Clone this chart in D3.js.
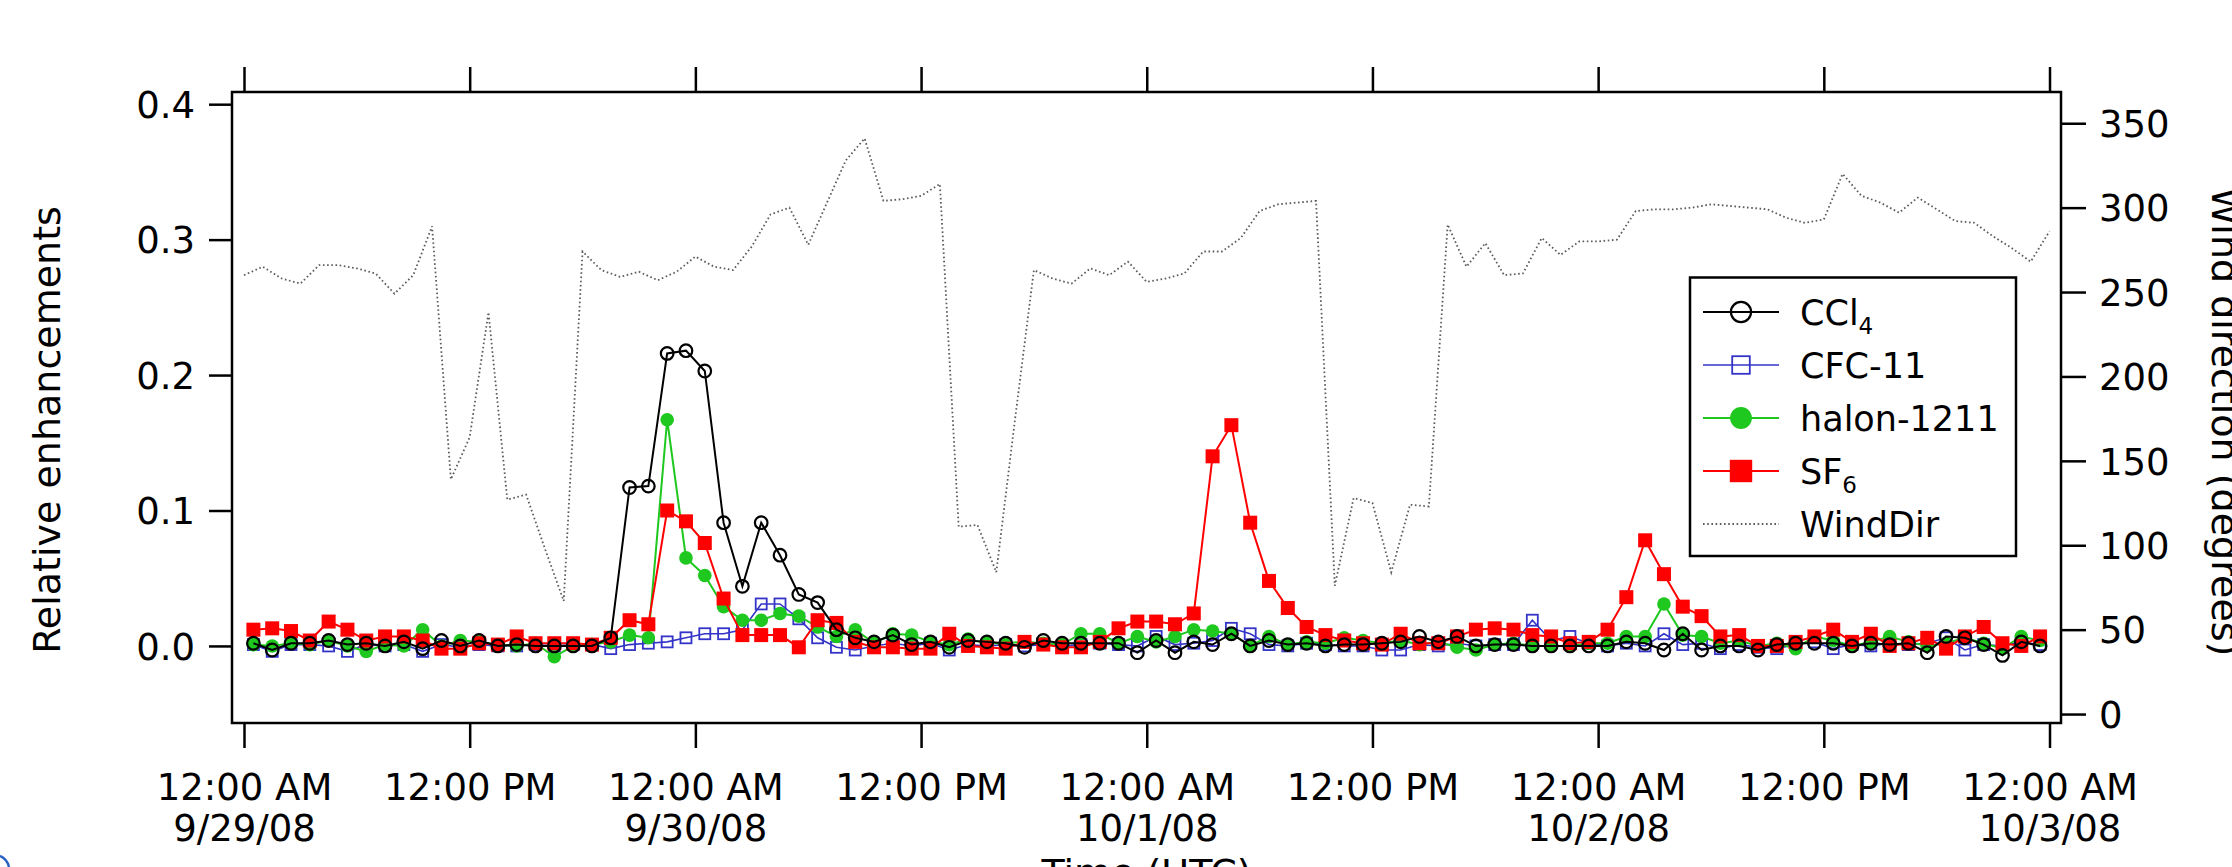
<!DOCTYPE html>
<html>
<head>
<meta charset="utf-8">
<script src="https://cdn.jsdelivr.net/npm/d3@7"></script>
<style>
  html, body { margin: 0; padding: 0; background: #fff; }
  svg { display: block; }
  text { font-family: "DejaVu Sans", sans-serif; fill: #000; }
</style>
</head>
<body>
<svg id="chart" width="2232" height="867"></svg>
<script>
// ---- data -------------------------------------------------------------
// start of record: 12:00 AM 9/29/08 (UTC); gas samples are hourly at half past,
// wind direction is hourly on the hour.
const startTime = Date.UTC(2008, 8, 29, 0, 0);
const HOUR = 3600 * 1000;

// wind direction (degrees), hours 0..96
const windDir = [
  260, 265, 258, 255, 266, 266, 264, 261, 249, 260,
  289, 139, 164, 238, 127, 130,  98,  67, 274, 263,
  259, 262, 257, 262, 271, 265, 263, 277, 296, 300,
  278, 303, 328, 341, 304, 305, 307, 314, 111, 112,
   84, 175, 263, 258, 255, 264, 260, 268, 256, 258,
  261, 274, 274, 282, 298, 302, 303, 304,  76, 128,
  125,  84, 124, 123, 290, 265, 279, 260, 261, 282,
  272, 280, 280, 281, 298, 299, 299, 300, 302, 301,
  300, 299, 294, 291, 293, 320, 307, 303, 297, 306,
  299, 292, 291, 283, 276, 268, 286
];

// relative enhancements, hours 0.5..95.5
const ccl4 = [
  0.002, -0.003, 0.002, 0.002, 0.004, 0.001, 0.002, 0.000, 0.003, -0.002,
  0.004, 0.000, 0.004, 0.000, 0.001, 0.000, 0.000, 0.000, 0.000, 0.006,
  0.117, 0.118, 0.216, 0.218, 0.203, 0.091, 0.044, 0.091, 0.067, 0.038,
  0.032, 0.012, 0.006, 0.003, 0.008, 0.001, 0.003, -0.001, 0.004, 0.003,
  0.002, -0.001, 0.004, 0.002, 0.002, 0.002,
  0.002, -0.005, 0.004, -0.005, 0.003, 0.001, 0.009, 0.000, 0.004, 0.001,
  0.002, 0.000, 0.001, 0.001, 0.002, 0.003, 0.007, 0.003, 0.007, 0.000,
  0.001, 0.001,
  0.000, 0.000, 0.000, 0.000, 0.000, 0.003, 0.002, -0.003, 0.009, -0.003,
  0.000, 0.000, -0.003, 0.001, 0.002, 0.002, 0.002, 0.000, 0.002, 0.001,
  0.002, -0.005, 0.007, 0.006, 0.001, -0.007, 0.003, 0.000
];

const cfc11 = [
  0.001, -0.004, 0.001, 0.001, 0.000, -0.004, 0.001, 0.000, 0.001, -0.004,
  0.001, -0.001, 0.001, 0.000, 0.000, 0.001, 0.000, 0.001, 0.001, -0.002,
  0.001, 0.002, 0.003, 0.006, 0.009, 0.009, 0.012, 0.031, 0.031, 0.020,
  0.006, -0.001, -0.003, 0.000, 0.002, 0.000, 0.002, -0.003, 0.001, 0.000,
  0.001, 0.000, 0.001, 0.000, 0.001, 0.002,
  0.001, 0.000, 0.007, 0.001, 0.002, 0.004, 0.013, 0.009, 0.001, 0.000,
  0.002, 0.001, 0.000, 0.000, -0.003, -0.003, 0.001, 0.000, 0.002, 0.000,
  0.001, 0.001,
  0.019, 0.004, 0.007, 0.002, 0.000, 0.002, 0.000, 0.009, 0.001, 0.002,
  -0.002, 0.001, -0.001, -0.002, 0.001, 0.003, -0.002, 0.001, 0.000, 0.002,
  0.001, 0.002, 0.006, -0.003, 0.001, 0.000, 0.003, 0.001
];

const halon1211 = [
  0.001, 0.000, 0.002, 0.001, 0.004, 0.000, -0.004, 0.001, 0.000, 0.012,
  0.000, 0.004, 0.003, 0.001, 0.000, 0.002, -0.008, 0.000, 0.001, 0.003,
  0.008, 0.006, 0.167, 0.065, 0.052, 0.029, 0.019, 0.019, 0.024, 0.022,
  0.014, 0.007, 0.012, 0.002, 0.009, 0.008, 0.003, 0.001, 0.005, 0.002,
  0.002, 0.003, 0.002, 0.001, 0.009, 0.009,
  0.002, 0.007, 0.003, 0.007, 0.012, 0.011, 0.009, 0.000, 0.007, 0.001,
  0.003, 0.002, 0.006, 0.004, 0.002, 0.004, 0.001, 0.003, -0.001, -0.003,
  0.001, 0.002,
  0.000, 0.000, 0.000, 0.002, 0.002, 0.007, 0.007, 0.031, 0.008, 0.007,
  0.002, 0.004, 0.000, 0.002, -0.002, 0.007, 0.004, 0.000, 0.003, 0.007,
  0.003, 0.000, 0.002, 0.006, 0.002, -0.002, 0.007, 0.004
];

const sf6 = [
  0.012, 0.013, 0.011, 0.004, 0.018, 0.012, 0.004, 0.007, 0.007, 0.004,
  -0.002, -0.002, 0.002, 0.001, 0.007, 0.002, 0.002, 0.002, 0.001, 0.006,
  0.019, 0.016, 0.100, 0.092, 0.076, 0.035, 0.008, 0.008, 0.008, -0.001,
  0.019, 0.017, 0.003, -0.001, -0.001, -0.002, -0.002, 0.009, 0.000, -0.001,
  -0.002, 0.003, 0.001, -0.001, -0.001, 0.003,
  0.013, 0.018, 0.018, 0.016, 0.024, 0.140, 0.163, 0.091, 0.048, 0.028,
  0.014, 0.008, 0.004, 0.002, 0.001, 0.009, 0.002, 0.002, 0.007, 0.012,
  0.013, 0.012,
  0.008, 0.007, 0.002, 0.003, 0.012, 0.036, 0.078, 0.053, 0.029, 0.022,
  0.007, 0.008, 0.000, 0.000, 0.003, 0.007, 0.012, 0.003, 0.009, 0.000,
  0.002, 0.006, -0.002, 0.007, 0.014, 0.002, 0.000, 0.007
];

const leftTicks = [0, 0.1, 0.2, 0.3, 0.4];
const rightTicks = [0, 50, 100, 150, 200, 250, 300, 350];
const legendNames = [["CC", "l", "4"], ["CFC-11"], ["halon-1211"], ["SF", "", "6"], ["WindDir"]];
const yLabelLeft = "Relative enhancements";
const yLabelRight = "Wind direction (degrees)";
const xLabel = "Time (UTC)";

// ---- layout -----------------------------------------------------------
const plot = { left: 232, right: 2061, top: 92, bottom: 723 };
const TICK_FONT = 37;
const TITLE_FONT = 38;
const LEGEND_FONT = 35;
const LEGEND_FAMILY = '"Liberation Sans", Arial, sans-serif';

const svg = d3.select("#chart");
svg.append("rect").attr("width", 2232).attr("height", 867).attr("fill", "#fff");

const x = d3.scaleUtc()
  .domain([new Date(startTime - 0.638 * HOUR), new Date(startTime + 96.611 * HOUR)])
  .range([plot.left, plot.right]);
const yL = d3.scaleLinear().domain([-0.0569, 0.409]).range([plot.bottom, plot.top]);
const yR = d3.scaleLinear().domain([-5.3, 368.5]).range([plot.bottom, plot.top]);

const gasTime = i => new Date(startTime + (i + 0.5) * HOUR);
const windTime = i => new Date(startTime + i * HOUR);

// ---- wind direction (right axis), dotted ------------------------------
const windStyle = { stroke: "#5c5c5c", width: 1.8, dash: "1.6 2.6" };
svg.append("path")
  .datum(windDir)
  .attr("fill", "none")
  .attr("stroke", windStyle.stroke)
  .attr("stroke-width", windStyle.width)
  .attr("stroke-dasharray", windStyle.dash)
  .attr("d", d3.line().x((d, i) => x(windTime(i))).y(d => yR(d)));

// ---- gas series -------------------------------------------------------
const series = [
  { key: "cfc11", values: cfc11, color: "#3434c8", line: 1.6, marker: "openSquare" },
  { key: "halon", values: halon1211, color: "#1ec81e", line: 2, marker: "dot" },
  { key: "sf6", values: sf6, color: "#ff0000", line: 2, marker: "square" },
  { key: "ccl4", values: ccl4, color: "#000000", line: 2, marker: "openCircle" }
];

function drawMarker(g, type, color, cx, cy, scale) {
  const s = scale || 1;
  if (type === "openCircle") {
    g.append("circle").attr("cx", cx).attr("cy", cy).attr("r", 6.3 * s)
      .attr("fill", "none").attr("stroke", color).attr("stroke-width", 2.2);
  } else if (type === "dot") {
    g.append("circle").attr("cx", cx).attr("cy", cy).attr("r", 6.8 * s)
      .attr("fill", color);
  } else if (type === "square") {
    const h = 7 * s;
    g.append("rect").attr("x", cx - h).attr("y", cy - h).attr("width", 2 * h).attr("height", 2 * h)
      .attr("fill", color);
  } else if (type === "openSquare") {
    const h = 5.5 * s;
    g.append("rect").attr("x", cx - h).attr("y", cy - h).attr("width", 2 * h).attr("height", 2 * h)
      .attr("fill", "none").attr("stroke", color).attr("stroke-width", 1.8);
  }
}

series.forEach(s => {
  const g = svg.append("g").attr("class", "series-" + s.key);
  g.append("path")
    .datum(s.values)
    .attr("fill", "none")
    .attr("stroke", s.color)
    .attr("stroke-width", s.line)
    .attr("d", d3.line().x((d, i) => x(gasTime(i))).y(d => yL(d)));
  s.values.forEach((v, i) => drawMarker(g, s.marker, s.color, x(gasTime(i)), yL(v)));
});

// ---- frame and axes ---------------------------------------------------
const AX = 2.5;
svg.append("rect")
  .attr("x", plot.left).attr("y", plot.top)
  .attr("width", plot.right - plot.left).attr("height", plot.bottom - plot.top)
  .attr("fill", "none").attr("stroke", "#000").attr("stroke-width", AX);

const xTicks = d3.utcHour.every(12).range(new Date(startTime), new Date(startTime + 96 * HOUR + 1));

function styleAxis(g) {
  g.select(".domain").remove();
  g.selectAll(".tick line").attr("stroke", "#000").attr("stroke-width", AX);
  g.selectAll("text").attr("font-size", TICK_FONT).attr("font-family", '"DejaVu Sans", sans-serif').attr("fill", "#000");
}

// bottom axis with two-line labels
const gB = svg.append("g").attr("transform", `translate(0,${plot.bottom})`)
  .call(d3.axisBottom(x).tickValues(xTicks).tickSize(25).tickFormat(""));
styleAxis(gB);
const fmtTime = d3.utcFormat("%I:%M %p");
const fmtDate = d3.utcFormat("%-m/%-d/%y");
gB.selectAll(".tick").each(function (d) {
  const t = d3.select(this).append("text")
    .attr("text-anchor", "middle").attr("font-size", TICK_FONT);
  t.append("tspan").attr("x", 0).attr("y", 77).text(fmtTime(d));
  if (d.getUTCHours() === 0) t.append("tspan").attr("x", 0).attr("y", 118).text(fmtDate(d));
});

// top axis, ticks only
const gT = svg.append("g").attr("transform", `translate(0,${plot.top})`)
  .call(d3.axisTop(x).tickValues(xTicks).tickSize(25).tickFormat(""));
styleAxis(gT);

// left axis
const gL = svg.append("g").attr("transform", `translate(${plot.left},0)`)
  .call(d3.axisLeft(yL).tickValues(leftTicks).tickSize(23).tickPadding(14).tickFormat(d3.format(".1f")));
styleAxis(gL);
gL.selectAll("text").attr("dy", "0.36em");

// right axis
const gR = svg.append("g").attr("transform", `translate(${plot.right},0)`)
  .call(d3.axisRight(yR).tickValues(rightTicks).tickSize(25).tickPadding(13));
styleAxis(gR);
gR.selectAll("text").attr("dy", "0.36em");

// axis titles
svg.append("text")
  .attr("transform", "translate(60,430) rotate(-90)")
  .attr("text-anchor", "middle").attr("font-size", TITLE_FONT).text(yLabelLeft);
svg.append("text")
  .attr("transform", "translate(2212,422) rotate(90)")
  .attr("text-anchor", "middle").attr("font-size", TITLE_FONT).text(yLabelRight);
svg.append("text")
  .attr("x", (plot.left + plot.right) / 2).attr("y", 886)
  .attr("text-anchor", "middle").attr("font-size", TITLE_FONT).text(xLabel);

// ---- legend -----------------------------------------------------------
const legend = svg.append("g");
const box = { x: 1690, y: 277.5, w: 326, h: 278.5 };
legend.append("rect").attr("x", box.x).attr("y", box.y).attr("width", box.w).attr("height", box.h)
  .attr("fill", "#fff").attr("stroke", "#000").attr("stroke-width", AX);

const legendItems = [
  { s: series[3], name: legendNames[0] },
  { s: series[0], name: legendNames[1] },
  { s: series[1], name: legendNames[2] },
  { s: series[2], name: legendNames[3] },
  { s: null, name: legendNames[4] }
];
legendItems.forEach((it, k) => {
  const cy = 312 + k * 53;
  if (it.s) {
    legend.append("line").attr("x1", 1703).attr("x2", 1779).attr("y1", cy).attr("y2", cy)
      .attr("stroke", it.s.color).attr("stroke-width", it.s.line);
    drawMarker(legend, it.s.marker, it.s.color, 1741, cy, 1.6);
  } else {
    legend.append("line").attr("x1", 1703).attr("x2", 1779).attr("y1", cy).attr("y2", cy)
      .attr("stroke", windStyle.stroke).attr("stroke-width", windStyle.width)
      .attr("stroke-dasharray", windStyle.dash);
  }
  const t = legend.append("text").attr("x", 1800).attr("y", cy + 12.5)
    .attr("font-size", LEGEND_FONT).attr("font-family", LEGEND_FAMILY);
  if (it.name.length === 3) {
    t.append("tspan").text(it.name[0] + it.name[1]);
    t.append("tspan").attr("font-size", 23).attr("dy", 9).text(it.name[2]);
  } else {
    t.text(it.name[0]);
  }
});

// small blue arc at the lower-left corner
svg.append("path").attr("d", "M0,856 Q7,859 9,867")
  .attr("fill", "none").attr("stroke", "#2a62c4").attr("stroke-width", 2.5);
</script>
</body>
</html>
